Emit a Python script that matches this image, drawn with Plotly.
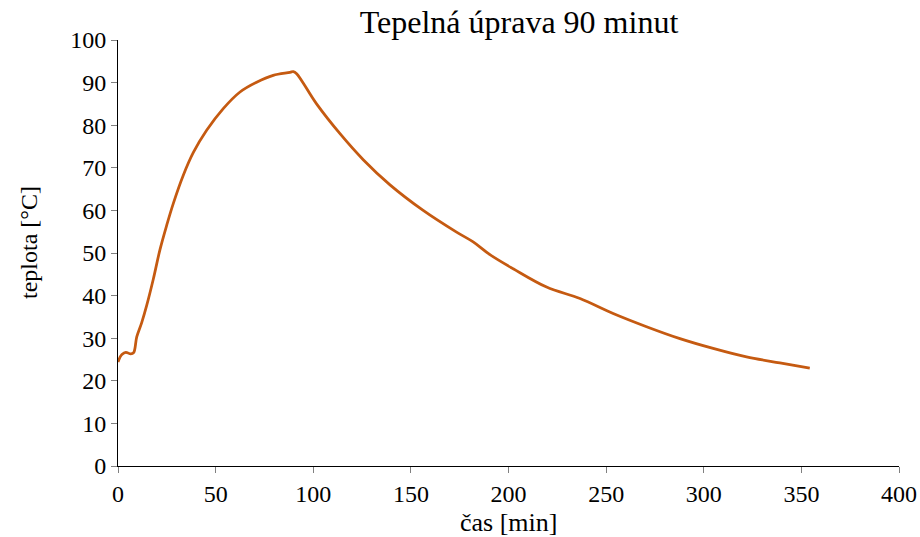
import plotly.graph_objects as go

cas_min = [0.0, 1.0, 2.0, 4.0, 6.5, 8.0, 9.6, 12.1, 14.7, 18.1, 21.5, 25.0, 28.3, 33.4, 38.6,
           45.4, 53.9, 62.5, 71.0, 79.5, 88.1, 89.8, 91.5, 101.7, 113.7, 125.6, 139.3, 156.3,
           173.4, 181.9, 190.5, 202.4, 219.5, 236.6, 253.6, 270.7, 287.8, 304.8, 321.9,
           339.0, 354.3]
teplota = [24.4, 25.5, 26.2, 26.7, 26.3, 26.6, 30.3, 33.6, 37.7, 43.9, 50.8, 56.6, 61.6, 68.2,
           73.6, 78.8, 83.9, 87.8, 90.1, 91.7, 92.4, 92.6, 92.1, 85.0, 78.0, 71.9, 66.0,
           60.0, 54.9, 52.6, 49.6, 46.3, 42.0, 39.3, 35.8, 32.7, 29.9, 27.6, 25.6, 24.2,
           23.0]

x_ticks = [0, 50, 100, 150, 200, 250, 300, 350, 400]
y_ticks = [0, 10, 20, 30, 40, 50, 60, 70, 80, 90, 100]

font_family = "Liberation Serif, Times New Roman, serif"

fig = go.Figure()
fig.add_trace(go.Scatter(
    x=cas_min, y=teplota, mode="lines",
    line=dict(color="#C55A11", width=2.75, shape="spline", smoothing=1.0),
    showlegend=False, hoverinfo="skip"))

fig.update_layout(
    width=920, height=537,
    margin=dict(l=118, r=21, t=40, b=71, autoexpand=False),
    paper_bgcolor="white", plot_bgcolor="white",
    font=dict(family=font_family, color="black", size=24),
    title=dict(text="Tepelná úprava 90 minut", x=519 / 920, xanchor="center", xref="container",
               y=1 - 22 / 537, yanchor="middle", yref="container",
               font=dict(family=font_family, size=32, color="black")),
    annotations=[
        dict(text="čas [min]", xref="paper", yref="paper", x=0.5, y=-56 / 426,
             xanchor="center", yanchor="middle", showarrow=False,
             font=dict(family=font_family, size=26, color="black")),
        dict(text="teplota [°C]", xref="paper", yref="paper", x=-89 / 781, y=(466 - 243) / 426,
             xanchor="center", yanchor="middle", showarrow=False, textangle=-90,
             font=dict(family=font_family, size=24, color="black")),
    ],
)
fig.update_xaxes(range=[0, 400], tickvals=x_ticks, ticktext=[str(v) for v in x_ticks],
                 showgrid=False, zeroline=False, showline=True, linecolor="black", linewidth=1,
                 ticks="outside", ticklen=6, tickcolor="#808080", tickwidth=1, automargin=False,
                 tickfont=dict(size=24))
fig.update_yaxes(range=[0, 100], tickvals=y_ticks, ticktext=[str(v) for v in y_ticks],
                 showgrid=False, zeroline=False, showline=True, linecolor="black", linewidth=1,
                 ticks="outside", ticklen=6, tickcolor="#808080", tickwidth=1, automargin=False,
                 tickfont=dict(size=24))

fig.write_html("out.html", config={"displayModeBar": False},
               post_script="document.body.style.margin='0';document.body.style.padding='0';"
                           "document.body.style.overflow='hidden';")
